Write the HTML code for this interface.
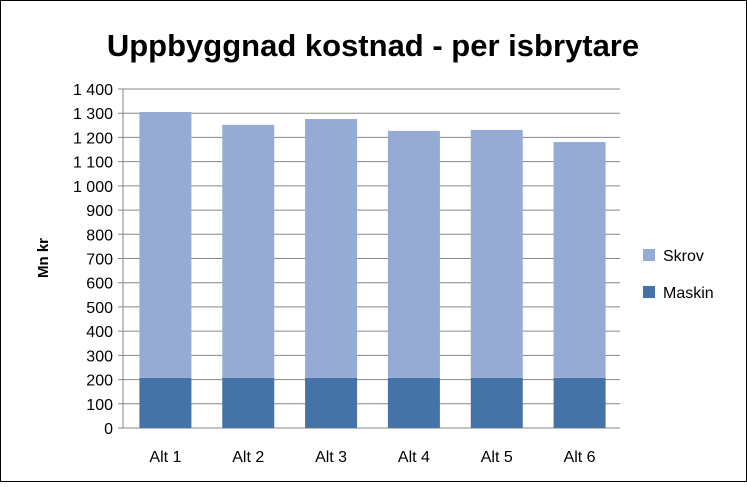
<!DOCTYPE html>
<html><head><meta charset="utf-8"><style>
body{margin:0;background:#fff;font-family:"Liberation Sans",sans-serif}
svg text{font-family:"Liberation Sans",sans-serif}
</style></head><body>
<svg width="747" height="482">
<rect x="0.5" y="0.5" width="746" height="481" fill="#fff" stroke="#000"/>
<text x="373" y="56" text-anchor="middle" font-size="31" font-weight="bold">Uppbyggnad kostnad - per isbrytare</text>
<text transform="translate(48,258) rotate(-90)" text-anchor="middle" font-size="15" font-weight="bold">Mn kr</text>
<g id="grid"></g><g id="bars"></g><g id="axes"></g>
<rect x="643" y="249" width="12" height="12" fill="#95abd3"/>
<text x="663" y="261" font-size="16">Skrov</text>
<rect x="643" y="286" width="12" height="12" fill="#4572a7"/>
<text x="663" y="298" font-size="16">Maskin</text>
</svg>
<script>
const categories=["Alt 1","Alt 2","Alt 3","Alt 4","Alt 5","Alt 6"];
const maskin=[207,207,207,207,207,207];
const skrov=[1098,1045,1069,1020,1024,974];
const ticks=[0,100,200,300,400,500,600,700,800,900,1000,1100,1200,1300,1400];
const tickLabels=["0","100","200","300","400","500","600","700","800","900","1 000","1 100","1 200","1 300","1 400"];
const ns="http://www.w3.org/2000/svg";
const X0=123,X1=620,Y0=428,Y1=89,MAX=1400;
const y=v=>Y0-(v/MAX)*(Y0-Y1);
const cw=(X1-X0)/categories.length;
const xc=i=>X0+cw*(i+0.5);
function mk(t,a,p){const e=document.createElementNS(ns,t);for(const k in a)e.setAttribute(k,a[k]);p.appendChild(e);return e;}
const g=document.getElementById('grid'),b=document.getElementById('bars'),ax=document.getElementById('axes');
ticks.forEach((t,i)=>{
 const l=mk('line',{x1:X0-5,x2:X1,y1:y(t),y2:y(t),stroke:i==0?'#868686':'#868686','stroke-width':1},g);
 
 
 const tx=mk('text',{x:X0-10,y:y(t)+6,'text-anchor':'end','font-size':16},ax);
 tx.textContent=tickLabels[i];
 
 
});
mk('line',{x1:X0,x2:X0,y1:Y1,y2:Y0,stroke:'#868686'},ax);
categories.forEach((c,i)=>{
 const w=52,x=xc(i)-w/2+1;
 const r1=mk('rect',{x:x,y:y(maskin[i]),width:w,height:Y0-y(maskin[i]),fill:'#4572a7'},b);
 
 
 const tot=maskin[i]+skrov[i];
 const r2=mk('rect',{x:x,y:y(tot),width:w,height:y(maskin[i])-y(tot),fill:'#95abd3'},b);
 
 
 const tx=mk('text',{x:xc(i)+1,y:462,'text-anchor':'middle','font-size':16},ax);
 tx.textContent=c;
 
 
});
</script>
</body></html>
